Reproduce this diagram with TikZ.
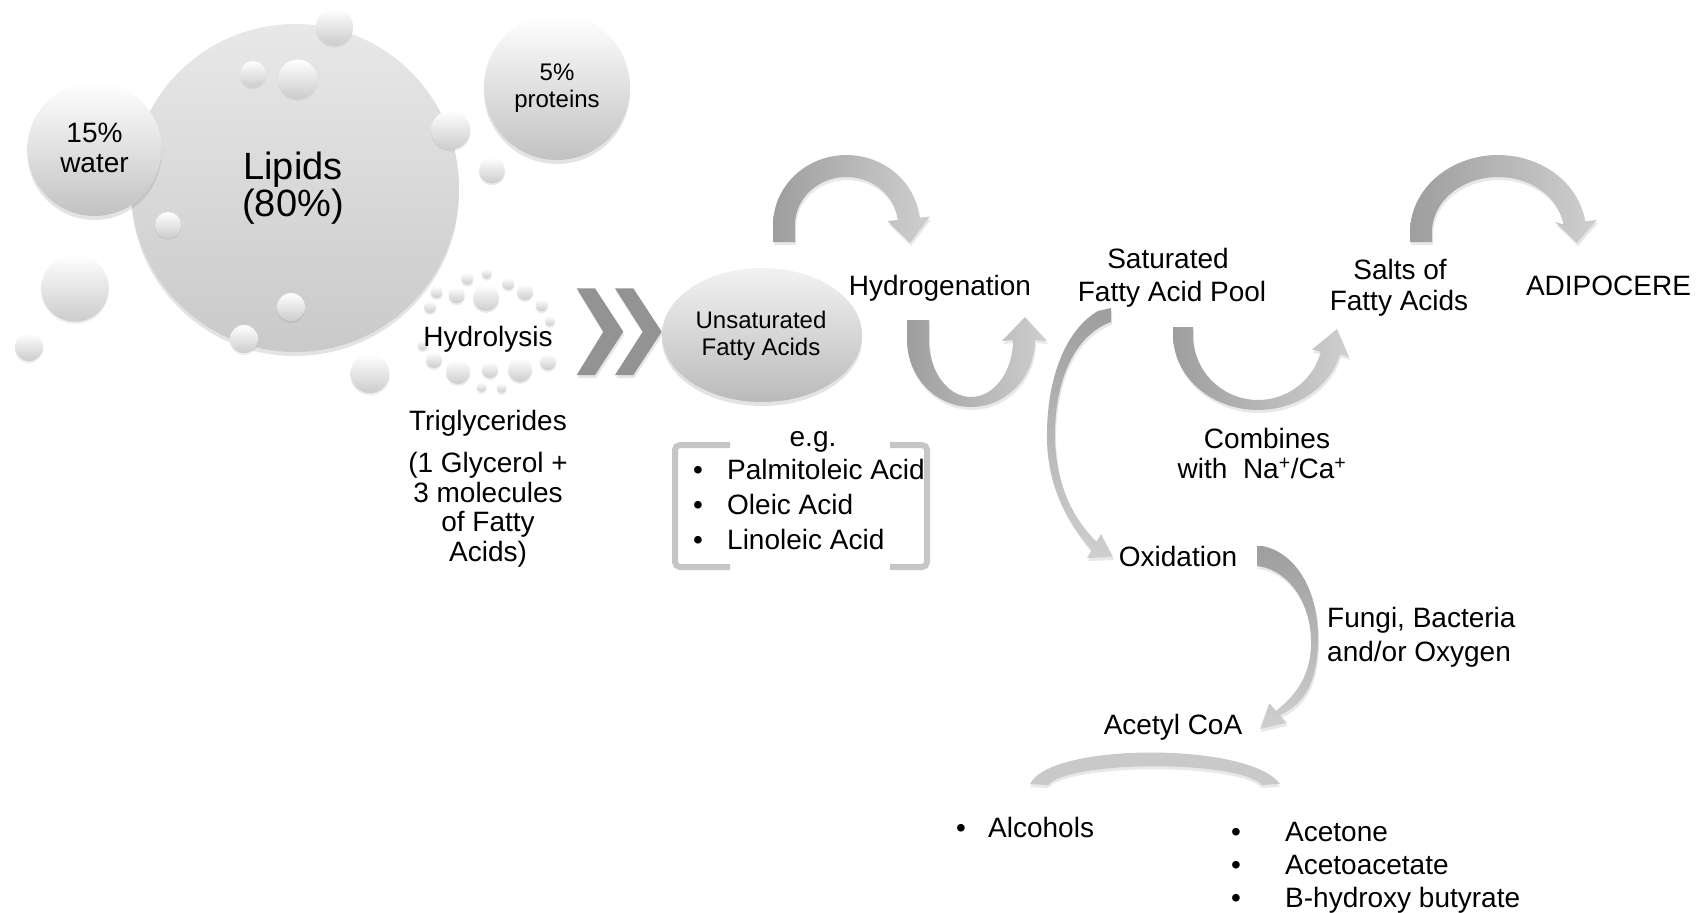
\documentclass[tikz,border=0pt]{standalone}
\usepackage{fontspec}
\setmainfont{Liberation Sans}
\usetikzlibrary{shadows,shapes.geometric}
\definecolor{arrD}{HTML}{9E9E9E}
\definecolor{arrL}{HTML}{CFCFCF}
\definecolor{chevC}{HTML}{939393}
\definecolor{bandC}{HTML}{C9C9C9}
\definecolor{brkC}{HTML}{C6C6C6}
\newcommand\fmain{\fontsize{28}{30}\selectfont}
\newcommand\fsm{\fontsize{24}{26}\selectfont}
\newcommand\fbig{\fontsize{38}{40}\selectfont}
\begin{document}
\begin{tikzpicture}[x=1pt,y=-1pt,
  lbl/.style={font=\fmain, anchor=base, inner sep=0pt},
  lbll/.style={font=\fmain, anchor=base west, inner sep=0pt},
  sml/.style={font=\fsm, anchor=base, inner sep=0pt},
  bigl/.style={font=\fbig, anchor=base, inner sep=0pt},
  sphere/.style={circle, inner sep=0pt, top color=white, bottom color=black!24, draw=none,
     drop shadow={opacity=0.22, shadow xshift=0pt, shadow yshift=-4pt}},
  dot/.style={top color=white, bottom color=black!20,
     drop shadow={opacity=0.15, shadow xshift=0pt, shadow yshift=-2pt}},
  shaft/.style={left color=arrD, right color=arrL,
     drop shadow={opacity=0.18, shadow xshift=1pt, shadow yshift=-3pt}},
  vshaft/.style={top color=arrD, bottom color=arrL,
     drop shadow={opacity=0.18, shadow xshift=1pt, shadow yshift=-3pt}},
  chev/.style={fill=chevC, drop shadow={opacity=0.2, shadow xshift=1pt, shadow yshift=-3pt}},
  brk/.style={draw=brkC, line width=6pt, rounded corners=5pt},
]
\useasboundingbox (0,0) rectangle (1703,913);
\fill[white] (0,0) rectangle (1703,913);

% ---------- spheres ----------
\node[sphere, minimum size=328pt, top color=black!9, bottom color=black!21] (lipids) at (295,188) {};
\node[sphere, minimum size=134pt] (water) at (94.5,149) {};
\node[sphere, minimum size=146pt] (prot) at (557,87) {};
\foreach \x/\y/\r in {334.5/27/18.5, 253/74/13, 297.6/79/19.5, 450.7/130/19.5, 492/170.5/13,
    168/225/13, 75/288/33.7, 29/347/14, 291/307/14, 244/339/14, 370/373.6/19.5}
  \shade[dot] (\x,\y) circle[radius=\r pt];

\node[bigl] (tlip1) at (293,179) {Lipids};
\node[bigl] (tlip2) at (293,216) {(80\%)};
\node[lbl] (twat1) at (94.5,142.5) {15\%};
\node[lbl] (twat2) at (94.5,172) {water};
\node[sml] (tpro1) at (557,80.6) {5\%};
\node[sml] (tpro2) at (557,107.6) {proteins};

% ---------- hydrolysis dots ----------
\foreach \x/\y/\r in {486.7/273.7/5, 467.3/278.7/6, 508.3/283.7/6, 436.7/292/6, 456.7/295.3/8,
    486/298/13, 525/292/8, 430/307/6, 541.7/305.3/6, 550/321/5, 422.7/345.3/5, 434/360/8,
    458/372/12, 490/370/8, 520/370/12, 548/362/8, 481.7/387/5, 501.7/388/5}
  \shade[dot] (\x,\y) circle[radius=\r pt];
\node[lbl] (hydro) at (488,346) {Hydrolysis};
\node[lbl] (trig) at (488,430) {Triglycerides};
\node[lbl] (gly1) at (488,472) {(1 Glycerol +};
\node[lbl] (gly2) at (488,502) {3 molecules};
\node[lbl] (gly3) at (488,531) {of Fatty};
\node[lbl] (gly4) at (488,561) {Acids)};

% ---------- chevrons ----------
\fill[chev] (576.7,288.3) -- (595,288.3) -- (623.3,331.7) -- (595,375) -- (576.7,375) -- (603.3,331.7) -- cycle;
\fill[chev] (615,288.3) -- (633.3,288.3) -- (661.7,331.7) -- (633.3,375) -- (615,375) -- (642.7,331.7) -- cycle;

% ---------- unsaturated ellipse ----------
\node[ellipse, inner sep=0pt, minimum width=200pt, minimum height=134pt,
      top color=black!5, bottom color=black!27,
      drop shadow={opacity=0.22, shadow xshift=0pt, shadow yshift=-4pt}] (ufa) at (762,335) {};
\node[sml] (tufa1) at (761,328) {Unsaturated};
\node[sml] (tufa2) at (761,355) {Fatty Acids};

% ---------- e.g. list with brackets ----------
\draw[brk] (730,445) -- (675,445) -- (675,567) -- (730,567);
\draw[brk] (890,445) -- (927,445) -- (927,567) -- (890,567);
\node[lbl] (eg) at (813,446.7) {e.g.};
\node[lbl] (b1) at (698,479.3) {\textbullet};
\node[lbl] (b2) at (698,514.3) {\textbullet};
\node[lbl] (b3) at (698,549) {\textbullet};
\node[lbll] (pal) at (727,479.3) {Palmitoleic Acid};
\node[lbll] (ole) at (727,514.3) {Oleic Acid};
\node[lbll] (lin) at (727,549) {Linoleic Acid};

% ---------- hydrogenation arrows ----------
\shade[shaft] (773,242) -- (773,225)
  -- plot[domain=180:6, samples=40, variable=\t] ({846.5+73.5*cos(\t)},{225-70*sin(\t)})
  -- (930,216.5) -- (910,243) -- (887.5,221)
  -- plot[domain=6:180, samples=40, variable=\t] ({846.5+51.5*cos(\t)},{225-48*sin(\t)})
  -- (795,242) -- cycle;
\node[lbl] (hydrog) at (940,295) {Hydrogenation};
\shade[shaft] (907,320) -- (907,340)
  -- plot[domain=180:360, samples=40, variable=\t] ({971+64*cos(\t)},{340-67*sin(\t)})
  -- (1047,341) -- (1025,317) -- (1002,341)
  -- plot[domain=360:180, samples=40, variable=\t] ({971+42*cos(\t)},{340-57*sin(\t)})
  -- (929,320) -- cycle;

% ---------- saturated pool ----------
\node[lbl] (sat1) at (1168,268) {Saturated};
\node[lbl] (sat2) at (1172,301.5) {Fatty Acid Pool};

% combines arrow
\shade[shaft] (1173,327) -- (1173,335)
  -- plot[domain=180:345, samples=40, variable=\t] ({1258+85*cos(\t)},{335-75*sin(\t)})
  -- (1349,357) -- (1337,329) -- (1312,349.5)
  -- plot[domain=345:180, samples=40, variable=\t] ({1258+65*cos(\t)},{335-65*sin(\t)})
  -- (1193,327) -- cycle;
\node[lbl] (comb1) at (1267,448.3) {Combines};
\node[lbl] (comb2) at (1262,478.3) {with\ \ Na\textsuperscript{+}/Ca\textsuperscript{+}};

% salts
\node[lbl] (salt1) at (1400,279) {Salts of};
\node[lbl] (salt2) at (1399,310) {Fatty Acids};
\shade[shaft] (1410,242) -- (1410,232)
  -- plot[domain=180:8, samples=40, variable=\t] ({1498+88*cos(\t)},{232-77*sin(\t)})
  -- (1597,220) -- (1577,243) -- (1555,222)
  -- plot[domain=8:180, samples=40, variable=\t] ({1498+66*cos(\t)},{232-55*sin(\t)})
  -- (1432,242) -- cycle;
\node[lbl] (adip) at (1608.5,295) {ADIPOCERE};

% ---------- oxidation branch ----------
\shade[vshaft] (1098,311) .. controls (1065,330) and (1046,380) .. (1047,440)
  .. controls (1048,490) and (1070,525) .. (1091.5,550.3)
  -- (1087,558) -- (1113,557) -- (1101,534) -- (1096.5,541.7)
  .. controls (1075,520) and (1057,490) .. (1055,440)
  .. controls (1054,380) and (1075,335) .. (1111,322) -- (1111,308) -- cycle;
\node[lbl] (oxid) at (1178,566.7) {Oxidation};

\shade[vshaft] (1257,546) -- (1262,546) .. controls (1295,552) and (1320,590) .. (1318,645)
  .. controls (1316,690) and (1300,705) .. (1280,715.3)
  -- (1286.6,722.8) -- (1260,729) -- (1269.4,703.3) -- (1276,710.8)
  .. controls (1292,698) and (1310,680) .. (1311,645)
  .. controls (1312,605) and (1290,570) .. (1257,566) -- cycle;
\node[lbll] (fung1) at (1327,627) {Fungi, Bacteria};
\node[lbll] (fung2) at (1327,661) {and/or Oxygen};
\node[lbl] (acet) at (1173,734.5) {Acetyl CoA};

\fill[bandC, drop shadow={opacity=0.18, shadow xshift=0pt, shadow yshift=-3pt}]
  (1030,784) .. controls (1050,742) and (1250,742) .. (1280,784)
  -- (1262,785) .. controls (1240,760) and (1070,760) .. (1048,785) -- cycle;

\node[lbl] (ba) at (961,837.6) {\textbullet};
\node[lbll] (alc) at (988,837.6) {Alcohols};
\node[lbl] (bb1) at (1236,841) {\textbullet};
\node[lbl] (bb2) at (1236,874.5) {\textbullet};
\node[lbl] (bb3) at (1236,907.5) {\textbullet};
\node[lbll] (acetone) at (1285,841) {Acetone};
\node[lbll] (acetoac) at (1285,874.5) {Acetoacetate};
\node[lbll] (bhyd) at (1285,907.5) {B-hydroxy butyrate};
\end{tikzpicture}
\end{document}
